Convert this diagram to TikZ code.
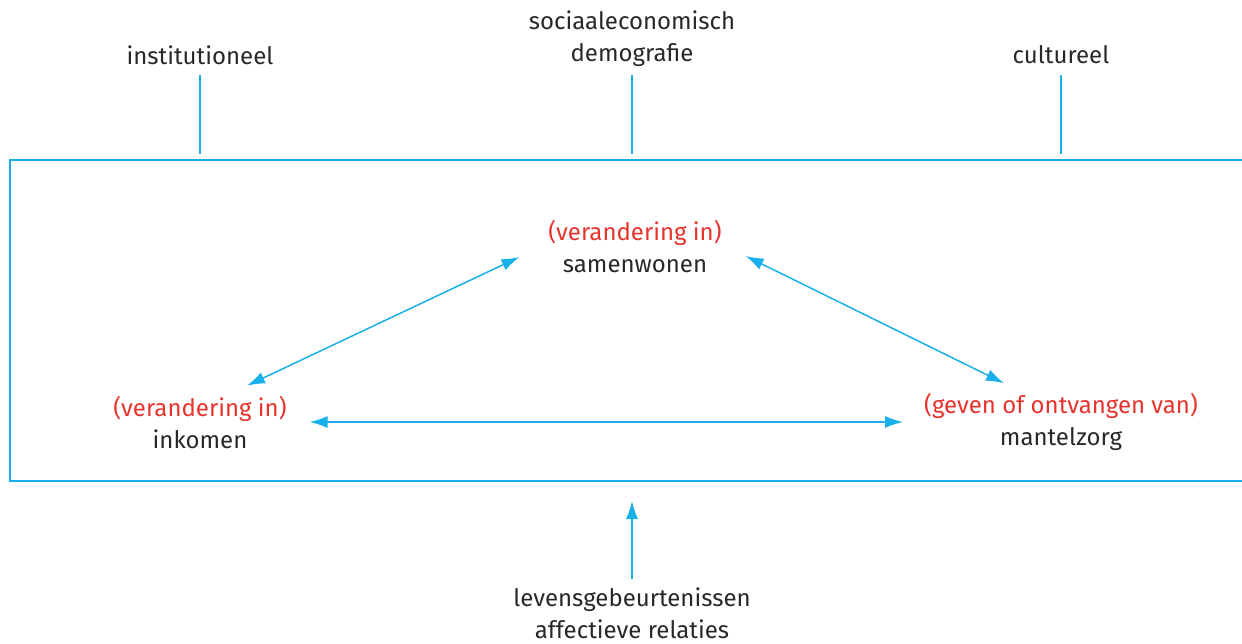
\documentclass[tikz,border=0pt]{standalone}
\usepackage{fontspec}
\setmainfont{Fira Sans}
\usetikzlibrary{arrows.meta}
\definecolor{lijnblauw}{HTML}{1AB0EB}
\definecolor{rood}{HTML}{E8332D}
\definecolor{tekst}{HTML}{282828}
\tikzset{
  lbl/.style={align=center, text=tekst, font=\fontsize{12}{16}\selectfont},
  lijn/.style={lijnblauw, line width=0.9pt},
  pijl/.style={lijnblauw, line width=0.75pt, {Latex[length=9pt,width=6pt]}-{Latex[length=9pt,width=6pt]}},
  eenpijl/.style={lijnblauw, line width=0.75pt, -{Latex[length=9pt,width=6pt]}}
}
\newcommand{\rd}[1]{\textcolor{rood}{#1}}
\begin{document}
\begin{tikzpicture}[x=0.5pt,y=-0.5pt]
        \useasboundingbox (0,0) rectangle (1242,643);

        % the box, open on the right
        \coordinate (lb) at (10,160);
        \coordinate (lo) at (10,481);
        \draw[lijn] (1242,160) -- (lb) -- (lo) -- (1242,481);

        % factors above
        \node[lbl] (inst) at (200,55) {institutioneel};
        \node[lbl] (soc) at (632,39) {sociaaleconomisch\\demografie};
        \node[lbl] (cult) at (1061,55) {cultureel};
        \draw[lijn] (inst.south |- 0,75) -- (inst.south |- 0,154);
        \draw[lijn] (soc.south |- 0,75) -- (soc.south |- 0,154);
        \draw[lijn] (cult.south |- 0,75) -- (cult.south |- 0,154);

        % triangle
        \node[lbl] (samen) at (635,246) {\rd{(verandering in)}\\samenwonen};
        \node[lbl] (inkomen) at (200,422) {\rd{(verandering in)}\\inkomen};
        \node[lbl] (zorg) at (1061,422) {\rd{(geven of ontvangen van)}\\mantelzorg};

        \draw[pijl] ([shift={(-22,11)}]samen.west) -- ([shift={(47,-3)}]inkomen.north);
        \draw[pijl] ([shift={(17,10)}]samen.east) -- ([shift={(-57,-3)}]zorg.north);
        \draw[pijl] ([shift={(16,0)}]inkomen.east) -- ([shift={(-14,0)}]zorg.west);

        % below
        \node[lbl] (levens) at (632,613) {levensgebeurtenissen\\affectieve relaties};
        \draw[eenpijl] (levens.north |- 0,579) -- (levens.north |- 0,501);
\end{tikzpicture}
\end{document}
